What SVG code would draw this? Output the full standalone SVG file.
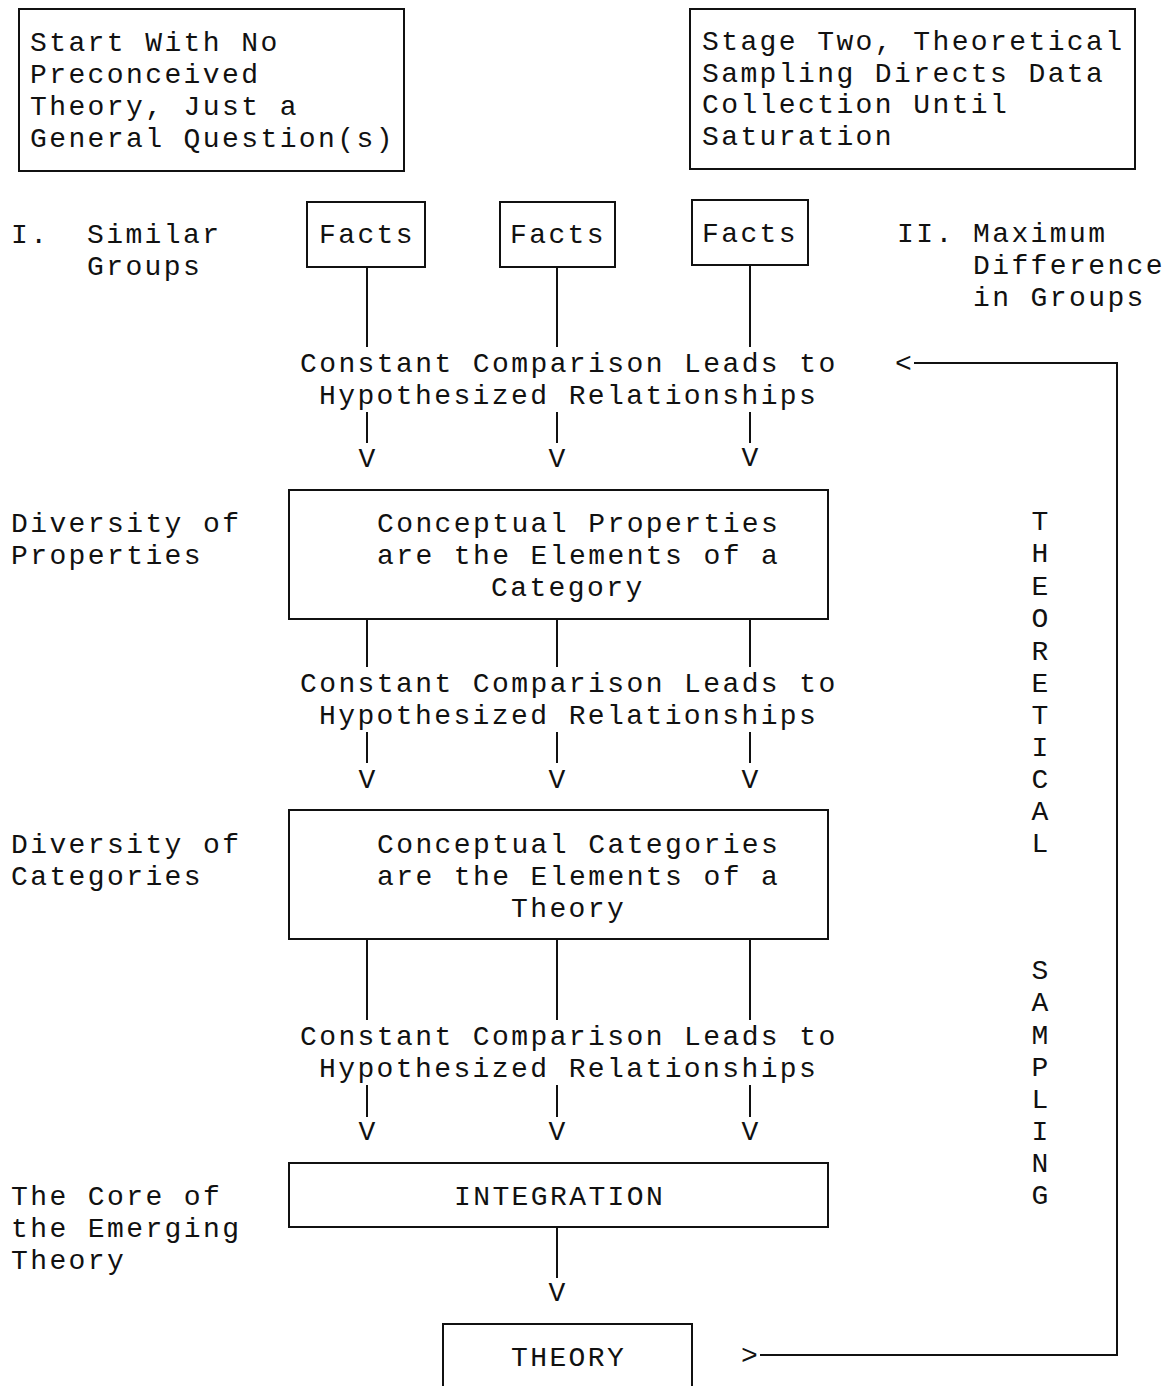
<svg xmlns="http://www.w3.org/2000/svg" width="1172" height="1386" viewBox="0 0 1172 1386">
<style>
text{font-family:"Liberation Mono","Courier New",monospace;font-size:28px;letter-spacing:2.4px;fill:#111}
.b{fill:none;stroke:#111;stroke-width:2}
.l{fill:none;stroke:#111;stroke-width:2}
.m text,text.m{text-anchor:middle;letter-spacing:0}
</style>
<rect width="1172" height="1386" fill="#fff"/>
<g id="start">
<rect class="b" x="19" y="9" width="385" height="162"/>
<text x="30" y="51">Start With No</text>
<text x="30" y="83">Preconceived</text>
<text x="30" y="115">Theory, Just a</text>
<text x="30" y="147">General Question(s)</text>
</g>
<g id="stage2">
<rect class="b" x="690" y="9" width="445" height="160"/>
<text x="702" y="50">Stage Two, Theoretical</text>
<text x="702" y="82">Sampling Directs Data</text>
<text x="702" y="113">Collection Until</text>
<text x="702" y="145">Saturation</text>
</g>
<g id="label-similar">
<text x="11" y="243">I.</text>
<text x="87" y="243">Similar</text>
<text x="87" y="275">Groups</text>
</g>
<g id="label-maxdiff">
<text x="897" y="242">II.</text>
<text x="973" y="242">Maximum</text>
<text x="973" y="274">Difference</text>
<text x="973" y="306">in Groups</text>
</g>
<g id="facts1"><rect class="b" x="307" y="202" width="118" height="65"/><text x="319" y="243">Facts</text></g>
<g id="facts2"><rect class="b" x="500" y="202" width="115" height="65"/><text x="510" y="243">Facts</text></g>
<g id="facts3"><rect class="b" x="692" y="200" width="116" height="65"/><text x="702" y="242">Facts</text></g>
<g id="cc1">
<text x="300" y="372">Constant Comparison Leads to</text>
<text x="319" y="404">Hypothesized Relationships</text>
</g>
<g id="properties">
<rect class="b" x="289" y="490" width="539" height="129"/>
<text x="377" y="532">Conceptual Properties</text>
<text x="377" y="564">are the Elements of a</text>
<text x="491" y="596">Category</text>
</g>
<g id="label-divprop">
<text x="11" y="532">Diversity of</text>
<text x="11" y="564">Properties</text>
</g>
<g id="cc2">
<text x="300" y="692">Constant Comparison Leads to</text>
<text x="319" y="724">Hypothesized Relationships</text>
</g>
<g id="categories">
<rect class="b" x="289" y="810" width="539" height="129"/>
<text x="377" y="853">Conceptual Categories</text>
<text x="377" y="885">are the Elements of a</text>
<text x="511" y="917">Theory</text>
</g>
<g id="label-divcat">
<text x="11" y="853">Diversity of</text>
<text x="11" y="885">Categories</text>
</g>
<g id="cc3">
<text x="300" y="1045">Constant Comparison Leads to</text>
<text x="319" y="1077">Hypothesized Relationships</text>
</g>
<g id="integration">
<rect class="b" x="289" y="1163" width="539" height="64"/>
<text x="454" y="1205">INTEGRATION</text>
</g>
<g id="label-core">
<text x="11" y="1205">The Core of</text>
<text x="11" y="1237">the Emerging</text>
<text x="11" y="1269">Theory</text>
</g>
<g id="theory">
<path class="b" d="M443 1392V1324H692V1392"/>
<text x="511" y="1366">THEORY</text>
</g>
<g id="theoretical-sampling" class="m">
<text x="1040" y="530">T</text>
<text x="1040" y="562">H</text>
<text x="1040" y="595">E</text>
<text x="1040" y="627">O</text>
<text x="1040" y="660">R</text>
<text x="1040" y="692">E</text>
<text x="1040" y="724">T</text>
<text x="1040" y="756">I</text>
<text x="1040" y="788">C</text>
<text x="1040" y="820">A</text>
<text x="1040" y="852">L</text>
<text x="1040" y="979">S</text>
<text x="1040" y="1011">A</text>
<text x="1040" y="1044">M</text>
<text x="1040" y="1076">P</text>
<text x="1040" y="1108">L</text>
<text x="1040" y="1140">I</text>
<text x="1040" y="1172">N</text>
<text x="1040" y="1204">G</text>
</g>
<g id="connectors">
<path class="l" d="M367 267V347M557 267V347M750 265V347"/>
<path class="l" d="M367 412V443M557 412V443M750 412V443"/>
<path class="l" d="M367 619V667M557 619V667M750 619V667"/>
<path class="l" d="M367 732V763M557 732V763M750 732V763"/>
<path class="l" d="M367 939V1020M557 939V1020M750 939V1020"/>
<path class="l" d="M367 1085V1117M557 1085V1117M750 1085V1117"/>
<path class="l" d="M557 1227V1278"/>
<path class="l" d="M914 363H1117V1355H760"/>
<g class="m">
<text x="367" y="467">V</text><text x="557" y="467">V</text><text x="750" y="466">V</text>
<text x="367" y="788">V</text><text x="557" y="788">V</text><text x="750" y="788">V</text>
<text x="367" y="1140">V</text><text x="557" y="1140">V</text><text x="750" y="1140">V</text>
<text x="557" y="1301">V</text>
</g>
<text x="895" y="372">&lt;</text>
<text x="741" y="1364">&gt;</text>
</g>
</svg>
